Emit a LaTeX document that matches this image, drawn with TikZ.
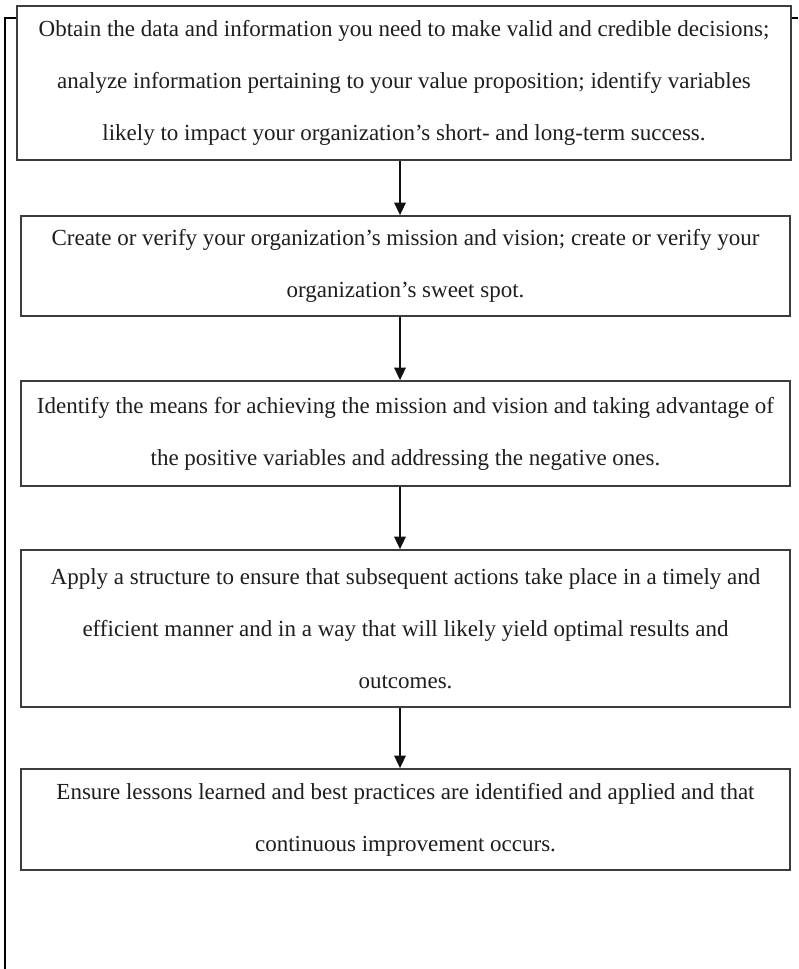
\documentclass[tikz,border=0pt]{standalone}
\usepackage{fontspec}
\setmainfont{Liberation Serif}
\usepackage{xcolor}
\definecolor{cBox}{HTML}{3C3C3C}
\definecolor{cText}{HTML}{1E1E1E}
\definecolor{cArrow}{HTML}{111111}
\usetikzlibrary{positioning,arrows.meta}
\tikzset{
  node-box/.style={draw=cBox,line width=1.1pt,inner sep=0pt,align=center,
    minimum width=461.4pt,text=cText,
    font=\fontsize{13.8}{31.2}\selectfont},
  arrow/.style={-{Triangle[length=7.5pt,width=7pt]},line width=0.7pt,draw=cArrow},
  frame-line/.style={line width=1.1pt,draw=black},
}
\begin{document}
\begin{tikzpicture}[x=0.6pt,y=-0.6pt]
  \useasboundingbox (0,0) rectangle (798,969);
  \node[node-box,minimum width=464.4pt,minimum height=92.4pt] at (404,83) (b1)
    {Obtain the data and information you need to make valid and credible decisions;\\
     analyze information pertaining to your value proposition; identify variables\\
     likely to impact your organization’s short- and long-term success.};
  \node[node-box,minimum height=60pt] at (405.5,266) (b2)
    {Create or verify your organization’s mission and vision; create or verify your\\
     organization’s sweet spot.};
  \node[node-box,minimum height=63pt] at (405.5,433.5) (b3)
    {Identify the means for achieving the mission and vision and taking advantage of\\
     the positive variables and addressing the negative ones.};
  \node[node-box,minimum height=94.2pt] at (405.5,628.5) (b4)
    {Apply a structure to ensure that subsequent actions take place in a timely and\\
     efficient manner and in a way that will likely yield optimal results and\\
     outcomes.};
  \node[node-box,minimum height=60.6pt] at (405.5,819.5) (b5)
    {Ensure lessons learned and best practices are identified and applied and that\\
     continuous improvement occurs.};
  % arrows sit a little left of the box centres
  \coordinate (ax) at (400,0);
  \foreach \a/\b in {b1/b2, b2/b3, b3/b4, b4/b5}
    \draw[arrow] (\a.south -| ax) -- (\b.north -| ax);
  % open frame round the chart
  \coordinate (fl-top) at (5,18);
  \coordinate (fl-bot) at (5,969);
  \coordinate (fr-end) at (798,18);
  \draw[frame-line] (fl-bot) -- (fl-top) -- (fl-top -| b1.west);
  \draw[frame-line] (b1.east |- fl-top) -- (fr-end);
\end{tikzpicture}
\end{document}
